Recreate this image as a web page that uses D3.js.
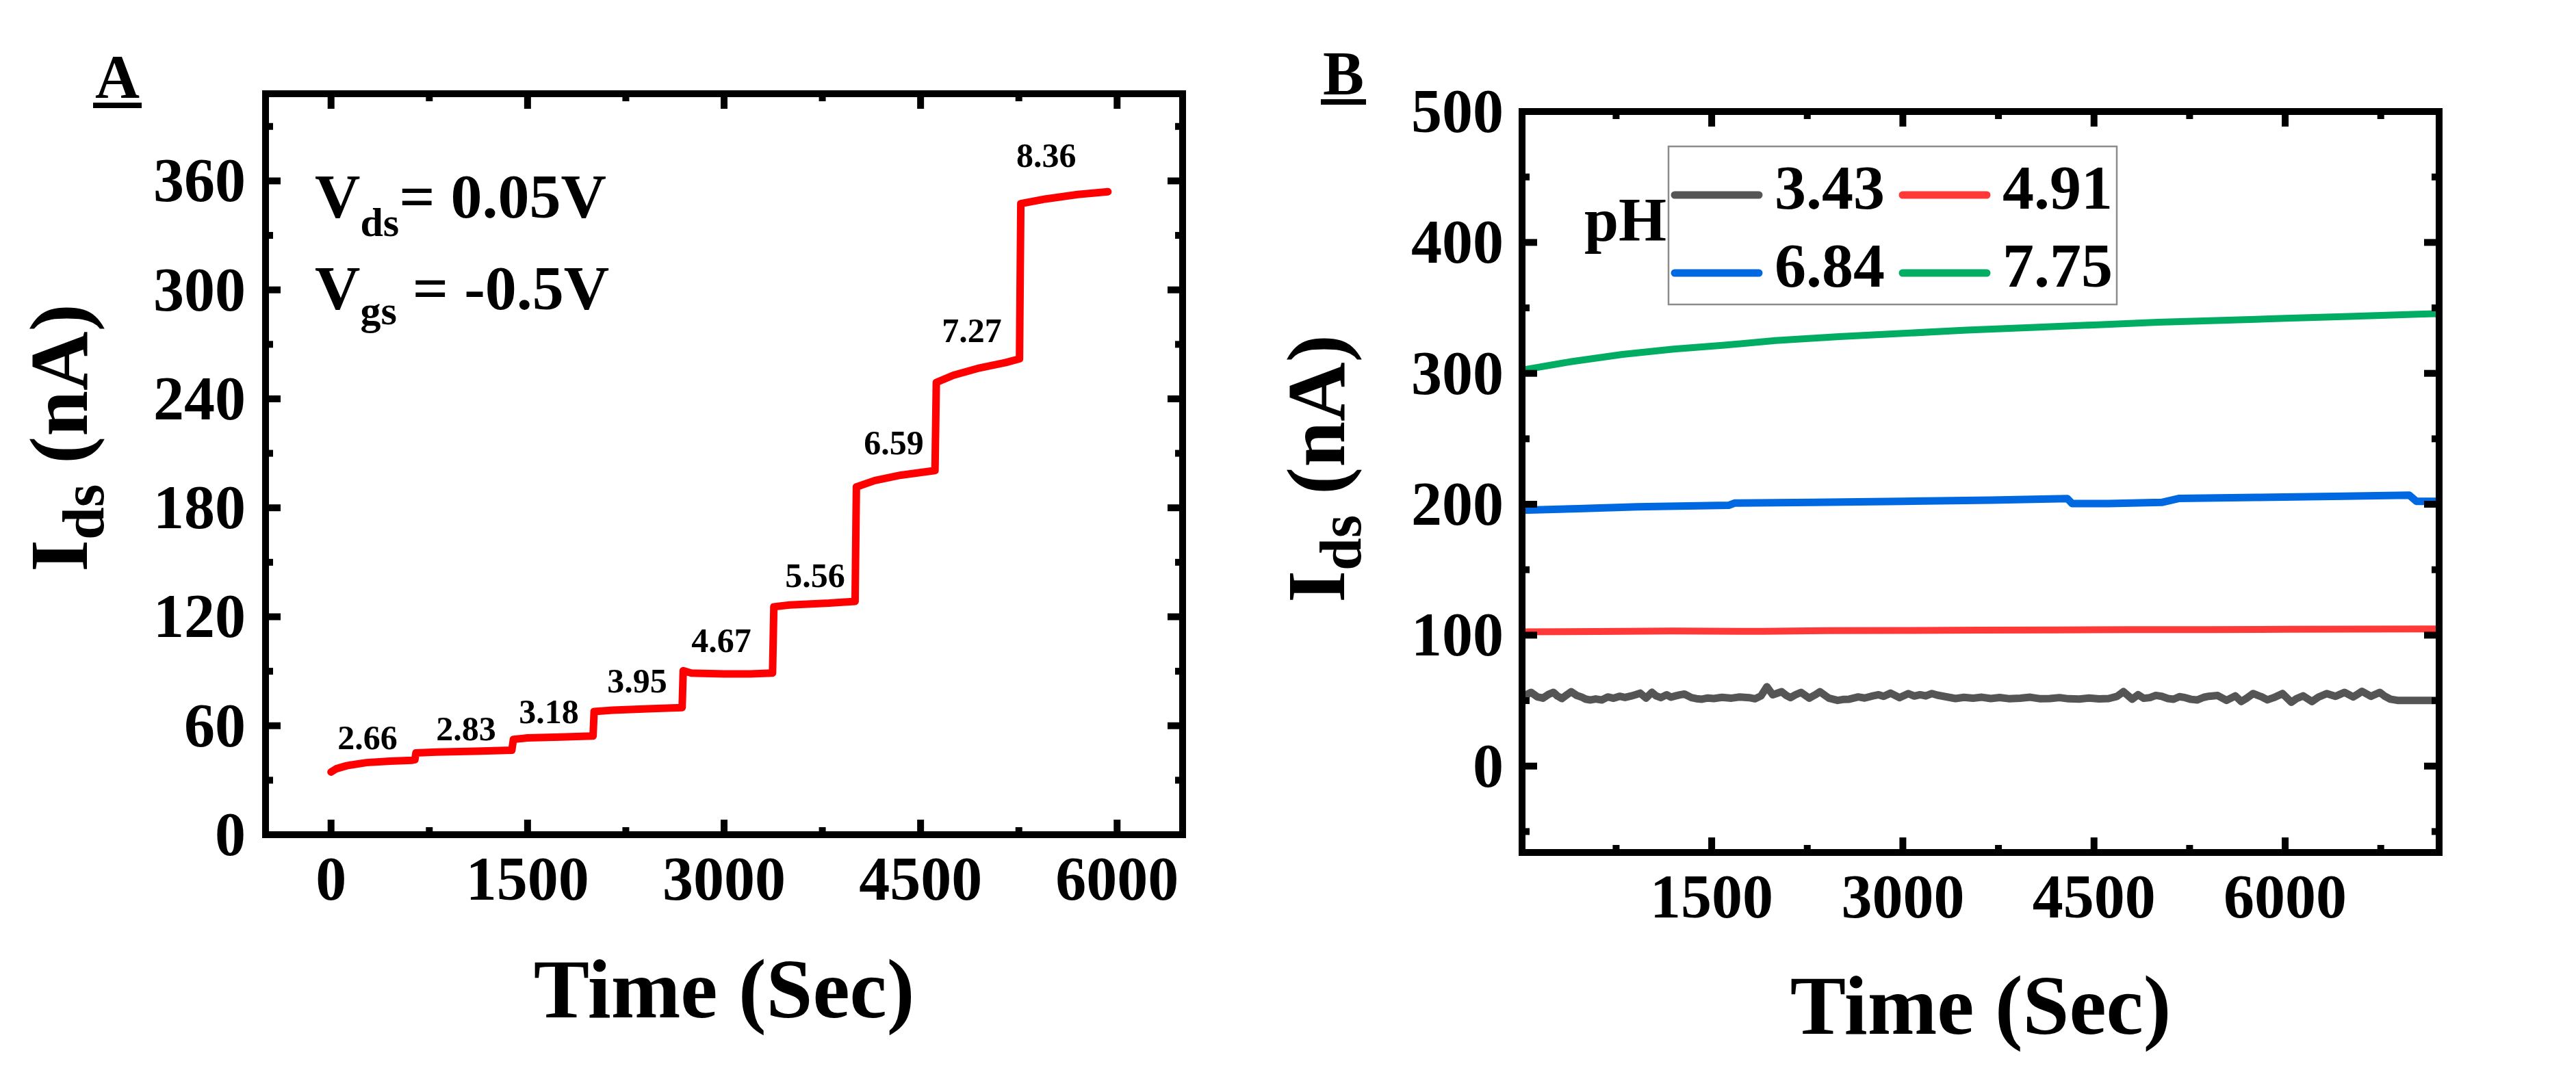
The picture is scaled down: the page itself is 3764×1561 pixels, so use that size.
<!DOCTYPE html>
<html>
<head>
<meta charset="utf-8">
<script src="https://cdn.jsdelivr.net/npm/d3@7/dist/d3.min.js"></script>
<style>
  html, body { margin: 0; padding: 0; background: #ffffff; }
  svg { display: block; }
  text { font-family: "Liberation Serif", "Times New Roman", serif; font-weight: bold; white-space: pre; }
</style>
</head>
<body>
<svg id="chart" width="3764" height="1561"></svg>
<script>
// ---------------- DATA ----------------
// Panel A: stepwise current vs time
const timeA = [0, 40, 120, 270, 450, 620, 640, 648, 800, 1100, 1380, 1392, 1500, 1750, 2000, 2008, 2150, 2450, 2680, 2688, 2750, 3000, 3200, 3370, 3380, 3500, 3800, 4000, 4010, 4150, 4350, 4610, 4620, 4750, 4950, 5150, 5255, 5265, 5450, 5700, 5930];
const currentA = [34.5, 36.3, 38, 39.7, 40.5, 41, 41.3, 45, 45.5, 46, 46.5, 52.5, 53.3, 53.8, 54.3, 67.8, 68.6, 69.4, 70, 90.3, 89, 88.5, 88.5, 89, 125.5, 126.5, 127.5, 128.5, 191.5, 195, 198, 200.5, 249, 253, 257, 260, 262, 347.5, 350, 352.5, 354];
const stepLabels = ["2.66", "2.83", "3.18", "3.95", "4.67", "5.56", "6.59", "7.27", "8.36"];
const stepLabelT = [279, 1031, 1663, 2337, 2979, 3695, 4296, 4891, 5459];
const stepLabelV = [53.5, 58.4, 67.8, 84.7, 107, 142.7, 215.8, 277.6, 374];
const xTicksA = [0, 1500, 3000, 4500, 6000];
const xMinorA = [750, 2250, 3750, 5250];
const yTicksA = [0, 60, 120, 180, 240, 300, 360];
const yMinorA = [30, 90, 150, 210, 270, 330, 390];

// Panel B: current vs time at four pH values
const pHLabels = ["3.43", "4.91", "6.84", "7.75"];
const pHColors = ["#555555", "#ff3838", "#0068e0", "#00ad63"];
const timeGray = [12, 45, 83, 130, 176, 220, 259, 290, 324, 360, 398, 440, 477, 510, 546, 590, 638, 685, 730, 777, 820, 870, 905, 939, 985, 1031, 1065, 1101, 1147, 1180, 1216, 1250, 1286, 1341, 1380, 1424, 1470, 1517, 1580, 1656, 1720, 1794, 1840, 1887, 1933, 1979, 2049, 2085, 2118, 2160, 2201, 2266, 2310, 2349, 2419, 2488, 2530, 2580, 2650, 2700, 2765, 2810, 2849, 2904, 2973, 3043, 3090, 3135, 3180, 3228, 3270, 3320, 3413, 3480, 3551, 3620, 3690, 3760, 3830, 3921, 4000, 4080, 4153, 4230, 4300, 4384, 4460, 4540, 4615, 4680, 4731, 4800, 4846, 4890, 4939, 4985, 5031, 5080, 5124, 5170, 5216, 5260, 5309, 5360, 5401, 5470, 5540, 5609, 5655, 5700, 5748, 5817, 5860, 5910, 5979, 6048, 6090, 6141, 6210, 6260, 6326, 6395, 6430, 6465, 6534, 6570, 6603, 6673, 6742, 6780, 6825, 6881, 7208];
const currentGray = [52.8, 54.5, 56.3, 53.0, 51.9, 54.8, 56.3, 53.5, 51.6, 54.2, 56.8, 54.0, 52.8, 51.2, 50.5, 51.3, 50.5, 52.8, 51.8, 53.3, 52.4, 53.6, 54.6, 55.7, 51.9, 56.3, 53.6, 52.3, 54.5, 52.6, 53.6, 54.4, 55.0, 52.3, 51.5, 51.1, 52.0, 51.6, 52.5, 51.9, 52.8, 52.3, 51.4, 53.6, 60.6, 54.5, 56.8, 54.0, 52.3, 54.6, 56.3, 51.9, 54.3, 56.8, 51.9, 50.2, 50.9, 51.1, 52.8, 52.0, 53.6, 54.5, 53.3, 55.7, 52.3, 55.4, 53.5, 54.5, 53.6, 55.4, 54.2, 53.3, 51.6, 52.5, 51.9, 52.6, 51.6, 52.4, 51.5, 51.9, 52.6, 51.4, 51.6, 52.3, 51.4, 51.2, 52.0, 51.3, 51.6, 53.2, 56.8, 51.1, 54.5, 51.8, 52.3, 54.0, 53.3, 51.6, 51.1, 53.0, 52.3, 51.0, 50.5, 52.5, 53.3, 53.9, 50.2, 53.6, 49.3, 52.0, 55.4, 52.8, 50.6, 52.3, 55.4, 48.8, 51.6, 53.6, 49.3, 52.6, 55.4, 53.3, 54.8, 56.3, 52.8, 55.0, 57.1, 53.3, 56.3, 53.5, 51.1, 50.2, 50.2];
const timeRed = [12, 600, 1200, 1900, 2400, 3000, 3600, 4200, 4800, 5400, 6000, 6600, 7208];
const currentRed = [102.5, 102.8, 103.2, 102.9, 103.4, 103.6, 103.9, 104.0, 104.2, 104.3, 104.5, 104.6, 104.8];
const timeBlue = [12, 453, 916, 1633, 1679, 2303, 2997, 3690, 4291, 4328, 4615, 5031, 5170, 5771, 6465, 6973, 7029, 7208];
const currentBlue = [195.4, 196.6, 198.0, 199.2, 200.9, 201.4, 202.3, 203.1, 204.3, 200.5, 200.5, 201.4, 204.5, 205.2, 206.1, 207.0, 202.3, 202.3];
const timeGreen = [12, 400, 800, 1200, 1600, 2000, 2500, 3000, 3500, 4000, 4500, 5000, 5500, 6000, 6500, 7000, 7208];
const currentGreen = [302.5, 309, 314.5, 318.5, 321.5, 325, 328, 330.5, 333, 335, 337, 339, 340.5, 342, 343.5, 345, 345.6];
const xTicksB = [1500, 3000, 4500, 6000];
const xMinorB = [750, 2250, 3750, 5250, 6750];
const yTicksB = [0, 100, 200, 300, 400, 500];
const yMinorB = [-50, 50, 150, 250, 350, 450];

// ---------------- DRAW ----------------
const svg = d3.select("#chart");
const FONT = 90;

function zip(ts, vs) { return ts.map((t, i) => ({ t: t, v: vs[i] })); }

function drawFrame(x, y, xMaj, xMin, yMaj, yMin, labelShift) {
  const [x0, x1] = x.range();
  const [y0, y1] = y.range(); // y0 bottom, y1 top
  const g = svg.append("g");
  const MAJ = 22, MIN = 11, SW = 10;
  xMaj.forEach(v => {
    const px = x(v);
    g.append("line").attr("x1", px).attr("x2", px).attr("y1", y0).attr("y2", y0 - MAJ).attr("stroke", "#000").attr("stroke-width", SW);
    g.append("line").attr("x1", px).attr("x2", px).attr("y1", y1).attr("y2", y1 + MAJ).attr("stroke", "#000").attr("stroke-width", SW);
    g.append("text").attr("x", px).attr("y", y0 + 95).attr("text-anchor", "middle").attr("font-size", FONT).text(v);
  });
  xMin.forEach(v => {
    const px = x(v);
    g.append("line").attr("x1", px).attr("x2", px).attr("y1", y0).attr("y2", y0 - MIN).attr("stroke", "#000").attr("stroke-width", SW);
    g.append("line").attr("x1", px).attr("x2", px).attr("y1", y1).attr("y2", y1 + MIN).attr("stroke", "#000").attr("stroke-width", SW);
  });
  yMaj.forEach(v => {
    const py = y(v);
    g.append("line").attr("x1", x0).attr("x2", x0 + MAJ).attr("y1", py).attr("y2", py).attr("stroke", "#000").attr("stroke-width", SW);
    g.append("line").attr("x1", x1).attr("x2", x1 - MAJ).attr("y1", py).attr("y2", py).attr("stroke", "#000").attr("stroke-width", SW);
    g.append("text").attr("x", x0 - labelShift).attr("y", py + 30).attr("text-anchor", "end").attr("font-size", FONT).text(v);
  });
  yMin.forEach(v => {
    const py = y(v);
    g.append("line").attr("x1", x0).attr("x2", x0 + MIN).attr("y1", py).attr("y2", py).attr("stroke", "#000").attr("stroke-width", SW);
    g.append("line").attr("x1", x1).attr("x2", x1 - MIN).attr("y1", py).attr("y2", py).attr("stroke", "#000").attr("stroke-width", SW);
  });
  g.append("rect").attr("x", x0).attr("y", y1).attr("width", x1 - x0).attr("height", y0 - y1)
    .attr("fill", "none").attr("stroke", "#000").attr("stroke-width", SW);
}

function yLabel(bx, cy) {
  const t = svg.append("text").attr("transform", `translate(${bx},${cy}) rotate(-90)`)
    .attr("text-anchor", "middle").attr("font-size", 120);
  t.append("tspan").text("I");
  t.append("tspan").attr("font-size", 86).attr("dy", 24).text("ds");
  t.append("tspan").attr("dy", -24).text(" (nA)");
}

function panelLabel(txt, px, by) {
  const t = svg.append("text").attr("x", px).attr("y", by).attr("font-size", 90).text(txt);
  const w = t.node().getComputedTextLength();
  svg.append("line").attr("x1", px - 3).attr("x2", px + w + 3).attr("y1", by + 11).attr("y2", by + 11)
    .attr("stroke", "#000").attr("stroke-width", 8);
}

// ---------- Panel A ----------
const xA = d3.scaleLinear().domain([-500, 6500]).range([388, 1728]);
const yA = d3.scaleLinear().domain([0, 408]).range([1220, 137]);

const lineA = d3.line().x(d => xA(d.t)).y(d => yA(d.v));
svg.append("path").datum(zip(timeA, currentA)).attr("d", lineA)
  .attr("fill", "none").attr("stroke", "#ff0000").attr("stroke-width", 11)
  .attr("stroke-linejoin", "round").attr("stroke-linecap", "round");

stepLabels.forEach((s, i) => {
  svg.append("text").attr("x", xA(stepLabelT[i])).attr("y", yA(stepLabelV[i]) + 17)
    .attr("text-anchor", "middle").attr("font-size", 50).text(s);
});

drawFrame(xA, yA, xTicksA, xMinorA, yTicksA, yMinorA, 29);

const t1 = svg.append("text").attr("x", 460).attr("y", 318).attr("font-size", 92);
t1.append("tspan").text("V");
t1.append("tspan").attr("font-size", 60).attr("dy", 27).text("ds");
t1.append("tspan").attr("dy", -27).text("= 0.05V");
const t2 = svg.append("text").attr("x", 460).attr("y", 452).attr("font-size", 92);
t2.append("tspan").text("V");
t2.append("tspan").attr("font-size", 60).attr("dy", 22).text("gs");
t2.append("tspan").attr("dy", -22).text(" = -0.5V");

yLabel(127, 640);
svg.append("text").attr("x", (388 + 1728) / 2).attr("y", 1487).attr("text-anchor", "middle")
  .attr("font-size", 122).text("Time (Sec)");
panelLabel("A", 139, 143);

// ---------- Panel B ----------
const xB = d3.scaleLinear().domain([12, 7208]).range([2224, 3564]);
const yB = d3.scaleLinear().domain([-66, 500]).range([1246, 163]);
const lineB = d3.line().x(d => xB(d.t)).y(d => yB(d.v));

const seriesB = [
  { data: zip(timeGray, currentGray), color: pHColors[0], w: 11 },
  { data: zip(timeRed, currentRed), color: pHColors[1], w: 10 },
  { data: zip(timeBlue, currentBlue), color: pHColors[2], w: 11 },
  { data: zip(timeGreen, currentGreen), color: pHColors[3], w: 10 }
];
seriesB.forEach(s => {
  svg.append("path").datum(s.data).attr("d", lineB)
    .attr("fill", "none").attr("stroke", s.color).attr("stroke-width", s.w)
    .attr("stroke-linejoin", "round");
});

drawFrame(xB, yB, xTicksB, xMinorB, yTicksB, yMinorB, 27);

svg.append("rect").attr("x", 2438).attr("y", 214).attr("width", 655).attr("height", 231)
  .attr("fill", "#ffffff").attr("stroke", "#8c8c8c").attr("stroke-width", 2.5);
const legPos = [[2442, 285], [2775, 285], [2442, 399], [2775, 399]];
pHLabels.forEach((lab, i) => {
  const [lx, ly] = legPos[i];
  svg.append("line").attr("x1", lx + 5).attr("x2", lx + 128).attr("y1", ly).attr("y2", ly)
    .attr("stroke", pHColors[i]).attr("stroke-width", 11).attr("stroke-linecap", "round");
  svg.append("text").attr("x", lx + 151).attr("y", ly + 20).attr("font-size", 92).text(lab);
});
svg.append("text").attr("x", 2315).attr("y", 352).attr("font-size", 90).text("pH");

yLabel(1964, 685);
svg.append("text").attr("x", (2224 + 3564) / 2).attr("y", 1511).attr("text-anchor", "middle")
  .attr("font-size", 122).text("Time (Sec)");
panelLabel("B", 1933, 138);
</script>
</body>
</html>
